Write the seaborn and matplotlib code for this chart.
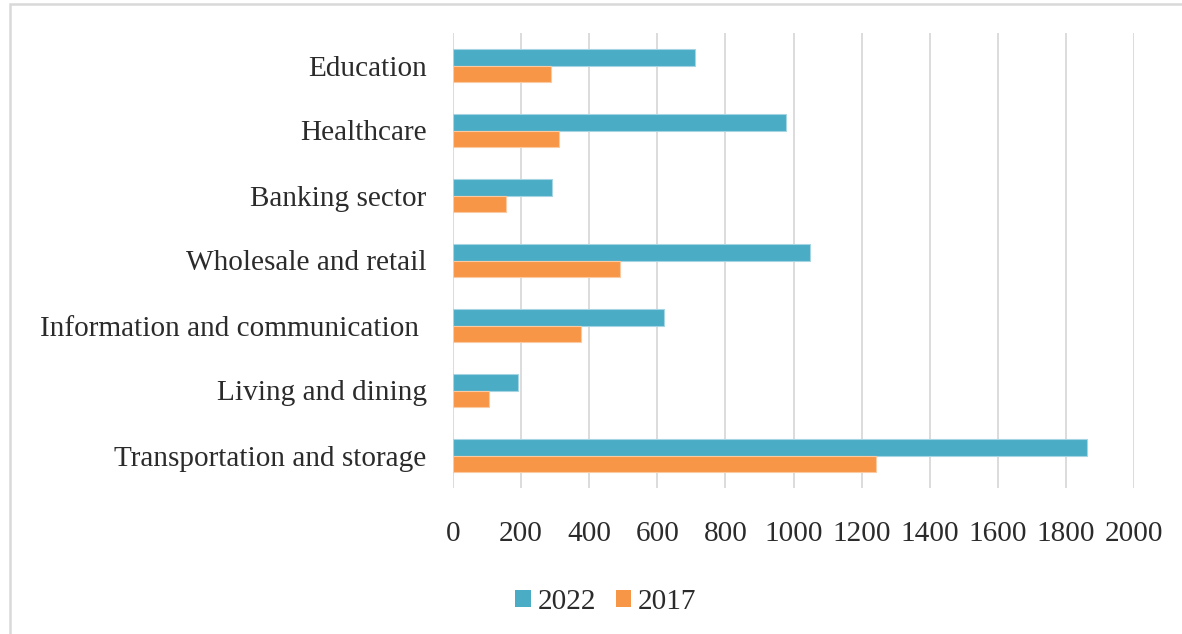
import matplotlib
matplotlib.use("Agg")
import matplotlib.pyplot as plt
from matplotlib.patches import Rectangle, Patch
import pandas as pd
import seaborn as sns

categories = [
    "Education",
    "Healthcare",
    "Banking sector",
    "Wholesale and retail",
    "Information and communication ",
    "Living and dining",
    "Transportation and storage",
]
values_2022 = [710, 978, 292, 1049, 620, 192, 1862]
values_2017 = [288, 312, 156, 489, 375, 106, 1242]
years = ["2022", "2017"]
x_ticks = [0, 200, 400, 600, 800, 1000, 1200, 1400, 1600, 1800, 2000]

colors = {"2022": "#4BACC6", "2017": "#F79646"}
edge_colors = {"2022": "#A5D5E3", "2017": "#FBC9A2"}
text_color = "#2B2B2B"
grid_color = "#D9D9D9"
font_size = 21.1

df = pd.DataFrame({
    "category": categories * 2,
    "year": ["2022"] * len(categories) + ["2017"] * len(categories),
    "value": values_2022 + values_2017,
})

sns.set_theme(style="white")
plt.rcParams["font.family"] = ["Liberation Serif", "DejaVu Serif"]

fig = plt.figure(figsize=(11.82, 6.34), dpi=100)
ax = fig.add_axes([453 / 1182, 1 - 488 / 634, 681 / 1182, 455 / 634])

sns.barplot(
    data=df, y="category", x="value", hue="year", hue_order=years,
    order=categories, palette=colors, orient="h", width=0.52,
    saturation=1, legend=False, ax=ax,
)

for year, container in zip(years, ax.containers):
    for bar in container:
        bar.set_edgecolor(edge_colors[year])
        bar.set_linewidth(0.8)

ax.set_xlim(0, 2000)
ax.set_xticks(x_ticks)
ax.set_xticklabels([str(t) for t in x_ticks])
ax.set_xlabel("")
ax.set_ylabel("")
ax.grid(axis="x", color=grid_color, linewidth=1.3)
ax.grid(axis="y", visible=False)
ax.set_axisbelow(True)
for s in ax.spines.values():
    s.set_visible(False)

ax.tick_params(axis="y", length=0, pad=19, labelsize=font_size, labelcolor=text_color)
ax.tick_params(axis="x", length=0, pad=24, labelsize=font_size, labelcolor=text_color)

handles = [Patch(facecolor=colors[y], edgecolor="none", label=y) for y in years]
fig.legend(
    handles=handles, loc="center", bbox_to_anchor=(606 / 1182, 1 - 602 / 634),
    ncol=2, frameon=False, fontsize=font_size, labelcolor=text_color,
    handlelength=0.52, handleheight=0.52, handletextpad=0.25, columnspacing=0.65,
)

# thin outer frame around the chart area
fig.add_artist(Rectangle(
    (10 / 1182, -0.2), 1.2, 1.2 - 4 / 634,
    transform=fig.transFigure, fill=False, edgecolor=grid_color,
    linewidth=1.8, clip_on=False,
))

fig.savefig("out.png", dpi=100, facecolor="white")
